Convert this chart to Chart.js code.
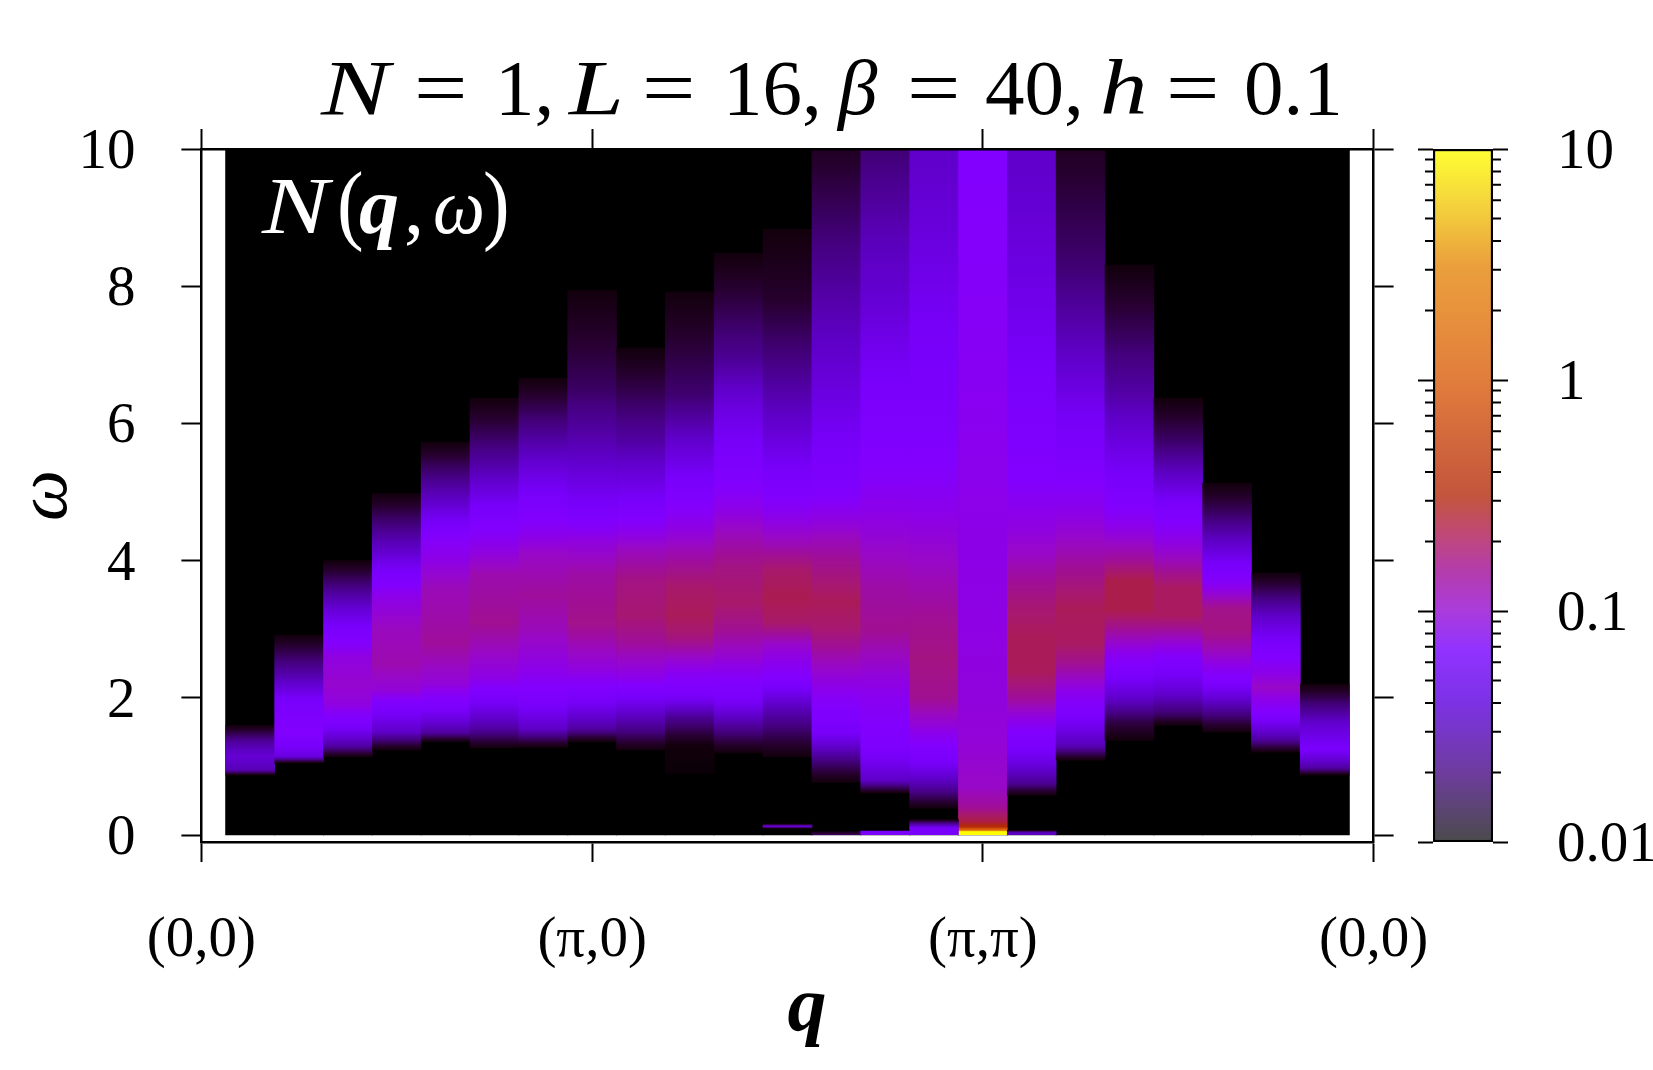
<!DOCTYPE html>
<html><head><meta charset="utf-8"><title>N(q,ω)</title>
<script src="https://cdn.jsdelivr.net/npm/chart.js@4"></script>
<style>html,body{margin:0;padding:0;background:#fff;overflow:hidden}canvas{position:absolute;top:0}#heat{left:0}#bar{left:1400px}</style>
</head><body>
<canvas id="heat" width="1653" height="1070"></canvas>
<canvas id="bar" width="253" height="1070"></canvas>
<script>
const FONT = '"Liberation Serif"';
// each column: [omega, log10 N(q,omega)]
const q01=[[.875,-1.95],[.95,-1.55],[1.15,-1.45],[1.35,-1.6],[1.6,-1.95]];
const q02=[[1.05,-1.95],[1.15,-1.4],[1.5,-1.15],[2,-1.3],[2.3,-1.55],[2.92,-1.95]];
const q03=[[1.14,-1.95],[1.3,-1.6],[1.6,-1.25],[1.9,-1.02],[2.2,-.97],[2.6,-1.02],[2.9,-1.2],[3.3,-1.45],[4,-1.95]];
const q04=[[1.24,-1.95],[1.5,-1.5],[1.9,-1.2],[2.1,-1],[2.5,-.9],[3,-.93],[3.5,-1.05],[3.8,-1.25],[4.1,-1.45],[4.98,-1.95]];
const q05=[[1.36,-1.95],[1.5,-1.6],[1.9,-1.2],[2.2,-1],[2.8,-.86],[3.6,-.92],[4.3,-1.12],[4.8,-1.45],[5.73,-1.95]];
const q06=[[1.27,-1.95],[1.55,-1.6],[2,-1.25],[2.3,-1.03],[3.1,-.84],[3.8,-.9],[4.4,-1.12],[4.8,-1.3],[5.2,-1.5],[5.8,-1.75],[6.37,-1.95]];
const q07=[[1.28,-1.95],[1.55,-1.5],[2,-1.2],[2.4,-1.05],[3,-.92],[3.5,-.86],[4.1,-.95],[4.6,-1.15],[5.15,-1.35],[5.9,-1.65],[6.66,-1.95]];
const q08=[[1.36,-1.95],[1.55,-1.6],[2,-1.25],[2.4,-1.02],[3.1,-.82],[3.8,-.88],[4.3,-1.02],[4.8,-1.28],[5.5,-1.5],[6.5,-1.75],[7.94,-1.95]];
const q09=[[1.24,-1.95],[1.5,-1.7],[2,-1.3],[2.3,-1.05],[2.8,-.86],[3.2,-.76],[3.7,-.8],[4.2,-.95],[4.9,-1.3],[5.75,-1.6],[7.1,-1.95]];
const q10=[[.9,-1.97],[1.3,-1.95],[1.7,-1.65],[2.05,-1.25],[2.6,-.95],[2.9,-.78],[3.2,-.7],[3.6,-.74],[4.1,-.9],[5.1,-1.25],[5.8,-1.5],[6.4,-1.72],[7.92,-1.95]];
const q11=[[1.2,-1.95],[1.5,-1.7],[2,-1.25],[2.6,-.98],[3,-.84],[3.4,-.74],[3.9,-.8],[4.4,-.93],[5.2,-1.18],[6.2,-1.4],[7,-1.65],[8.48,-1.95]];
const q12=[[1.14,-1.95],[1.5,-1.75],[1.9,-1.5],[2.3,-1.15],[2.8,-.95],[3.1,-.74],[3.47,-.68],[3.85,-.74],[4.2,-.9],[5.1,-1.22],[5.9,-1.45],[6.9,-1.68],[7.8,-1.85],[8.83,-1.95]];
const q13=[[.77,-1.95],[1.05,-1.72],[1.5,-1.28],[2,-1.1],[2.6,-.9],[3,-.76],[3.4,-.7],[3.9,-.82],[4.3,-.92],[5.1,-1.2],[6.4,-1.4],[7.8,-1.58],[8.8,-1.72],[10,-1.88]];
const q14=[[.61,-1.95],[.8,-1.5],[1.3,-1.2],[2,-1.08],[3,-.84],[3.6,-.88],[4.1,-.95],[5.2,-1.12],[6.4,-1.25],[7.8,-1.45],[8.8,-1.55],[10,-1.72]];
const q15=[[.39,-1.95],[.7,-1.6],[1.1,-1.25],[1.6,-1],[2,-.84],[2.6,-.8],[3.2,-.85],[4,-.95],[5.2,-1.12],[6.4,-1.25],[7.6,-1.32],[8.8,-1.42],[10,-1.5]];
const q16=[[0,1],[.05,1],[.075,.2],[.12,-.45],[.2,-.65],[.4,-.85],[.7,-.95],[1.5,-1],[3,-1.03],[5,-1.05],[7,-1.1],[10,-1.15]];
const q17=[[.58,-1.95],[.75,-1.65],[1.05,-1.4],[1.5,-1.15],[1.95,-.88],[2.4,-.7],[2.9,-.7],[3.4,-.78],[4.1,-.95],[5.2,-1.15],[6.9,-1.3],[8.3,-1.4],[10,-1.5]];
const q18=[[1.09,-1.95],[1.3,-1.55],[1.8,-1.2],[2.5,-.84],[2.8,-.72],[3.3,-.7],[3.7,-.8],[4.5,-1],[5.3,-1.18],[6.3,-1.35],[6.9,-1.48],[8.3,-1.72],[10,-1.88]];
const q19=[[1.38,-1.95],[1.65,-1.8],[2,-1.48],[2.45,-1.18],[3,-.85],[3.3,-.66],[3.7,-.66],[4,-.85],[4.5,-1.05],[5.1,-1.25],[5.9,-1.45],[6.4,-1.58],[7.4,-1.78],[8.31,-1.95]];
const q20=[[1.6,-1.95],[1.75,-1.75],[2.05,-1.48],[2.5,-1.2],[2.9,-.92],[3.2,-.72],[3.6,-.72],[4,-.92],[4.7,-1.2],[5.15,-1.45],[5.7,-1.72],[6.37,-1.95]];
const q21=[[1.5,-1.95],[1.75,-1.7],[2,-1.45],[2.3,-1.15],[2.7,-.92],[3,-.8],[3.3,-.82],[3.8,-1.2],[4.2,-1.45],[4.7,-1.75],[5.13,-1.95]];
const q22=[[1.21,-1.95],[1.4,-1.6],[1.8,-1.15],[2.15,-.95],[2.7,-1.2],[3.2,-1.5],[3.82,-1.95]];
const q23=[[.875,-1.95],[.98,-1.6],[1.25,-1.27],[1.6,-1.45],[1.9,-1.7],[2.2,-1.95]];
const columns=[q01,q02,q03,q04,q05,q06,q07,q08,q09,q10,q11,q12,q13,q14,q15,q16,q17,q18,q19,q20,q21,q22,q23];
const qPositions=[1,2,3,4,5,6,7,8,9,10,11,12,13,14,15,16,17,18,19,20,21,22,23];
// small low-energy features below the main band
const lowQ=[12,13,14,15,17];
const low12=[[.1,-1.9],[.13,-1.4],[.16,-1.9]];
const low13=[[0,-1.75],[.05,-1.9]];
const low14=[[0,-1.2],[.06,-1.3]];
const low15=[[0,-1.3],[.1,-1.28],[.17,-1.65],[.23,-1.95]];
const low17=[[0,-1.5],[.04,-1.55],[.07,-1.95]];
const lowColumns=[low12,low13,low14,low15,low17];

const xTickValues=[0,8,16,24];
const xTickLabels=['(0,0)','(π,0)','(π,π)','(0,0)'];
const yTickValues=[0,2,4,6,8,10];
const cbMajor=[0.01,0.1,1,10];
const cbLabels=['0.01','0.1','1','10'];
const cbMinor=[.02,.03,.04,.05,.06,.07,.08,.09,.2,.3,.4,.5,.6,.7,.8,.9,2,3,4,5,6,7,8,9];

// heat palette: log10 N -> r,g,b
const palette=[[-2,0,0,0],[-1.95,18,0,12],[-1.85,38,0,45],[-1.7,68,0,125],[-1.5,95,0,200],[-1.3,120,0,250],[-1.15,130,0,255],[-1.05,140,0,235],[-.95,152,8,200],[-.85,160,15,150],[-.75,168,25,110],[-.65,172,30,70],[-.5,178,40,10],[0,217,92,11],[.5,230,136,11],[1,255,255,0]];
// colour bar as it appears (paler than the map)
const barColours=[[-2,75,75,75],[-1.69,110,60,160],[-1.39,125,50,230],[-1.17,145,50,255],[-1,170,60,220],[-.82,180,60,170],[-.7,190,70,130],[-.5,195,85,60],[0,225,125,60],[.5,235,160,60],[.78,245,215,60],[1,255,255,50]];

function colourAt(t){
  for(let i=1;i<palette.length;i++){
    if(t<=palette[i][0]){
      const a=palette[i-1],b=palette[i],f=(t-a[0])/(b[0]-a[0]);
      return `rgb(${a[1]+(b[1]-a[1])*f|0},${a[2]+(b[2]-a[2])*f|0},${a[3]+(b[3]-a[3])*f|0})`;
    }
  }
  return 'rgb(255,255,0)';
}
function columnGradient(chart,stops){
  const y=chart.scales.y;
  if(!y||!chart.ctx)return '#000';
  const w0=stops[0][0],w1=stops[stops.length-1][0];
  const p0=y.getPixelForValue(w0),p1=y.getPixelForValue(w1);
  if(!isFinite(p0)||!isFinite(p1))return '#000';
  const g=chart.ctx.createLinearGradient(0,p0,0,p1);
  for(let i=0;i<stops.length-1;i++){
    const [a,ta]=stops[i],[b,tb]=stops[i+1];
    for(let k=0;k<=5;k++){
      const f=k/5,w=a+(b-a)*f;
      g.addColorStop(Math.min(1,Math.max(0,(w-w0)/(w1-w0))),colourAt(ta+(tb-ta)*f));
    }
  }
  return g;
}

// text, style, x, horizontal stretch, vertical stretch
const titleRuns=[['N','i',321,1.3,1],['=','r',414,1.2,1],['1,','r',495,1,1],['L','i',569,1.25,1],['=','r',642,1.2,1],['16,','r',723,1,1],['β','i',838,1,1],['=','r',907,1.2,1],['40,','r',985,1,1],['h','i',1100,1.2,1],['=','r',1166,1.2,1],['0.1','r',1244,1,1]];
const noteRuns=[['N','i',262,1.25,1],['(','r',337,1,1.1],['q','b',359,1,1],[',','r',404,1,1],['ω','i',433,.92,1],[')','r',483,1,1.1]];
function drawRuns(ctx,runs,size,y,colour){
  ctx.save();ctx.fillStyle=colour;ctx.textBaseline='alphabetic';ctx.textAlign='left';
  for(const [s,st,x,sx,sy] of runs){
    ctx.font=(st==='i'?'italic ':st==='b'?'italic bold ':'')+size+'px '+FONT;
    ctx.save();ctx.translate(x,y);ctx.scale(sx,sy);ctx.fillText(s,0,0);ctx.restore();
  }
  ctx.restore();
}
const textPlugin={id:'mathText',
  afterDatasetsDraw(chart){drawRuns(chart.ctx,noteRuns,80,233,'#fff');},
  afterDraw(chart){drawRuns(chart.ctx,titleRuns,79,114,'#000');}};

const axisCommon={border:{display:true,color:'#000',width:2.5,z:1},
  grid:{drawOnChartArea:false,drawTicks:true,tickLength:20,tickWidth:2,tickColor:'#000',z:1,offset:false}};
const tickFont={family:FONT,size:57};

new Chart(document.getElementById('heat'),{
  type:'bar',
  data:{datasets:[
    {label:'low',order:1,data:lowQ.map((q,i)=>({x:q,y:[lowColumns[i][0][0],lowColumns[i][lowColumns[i].length-1][0]]})),
      backgroundColor:c=>columnGradient(c.chart,lowColumns[c.dataIndex])},
    {label:'N(q,ω)',order:2,data:qPositions.map((q,i)=>({x:q,y:[columns[i][0][0],columns[i][columns[i].length-1][0]]})),
      backgroundColor:c=>columnGradient(c.chart,columns[c.dataIndex])},
    {label:'background',order:3,data:qPositions.map(q=>({x:q,y:[0,10]})),backgroundColor:'#000',inflateAmount:.6}
  ]},
  options:{responsive:false,animation:false,devicePixelRatio:1,
    layout:{padding:0,autoPadding:false},
    plugins:{legend:{display:false},tooltip:{enabled:false},title:{display:false}},
    datasets:{bar:{grouped:false,barPercentage:1,categoryPercentage:1,borderWidth:0}},
    scales:{
      x:{type:'linear',position:'bottom',min:0,max:24,offset:false,...axisCommon,
        afterBuildTicks:s=>{s.ticks=xTickValues.map(value=>({value}));},
        afterFit:s=>{s.height=228;},
        ticks:{font:tickFont,color:'#000',padding:45,maxRotation:0,autoSkip:false,callback:(v,i)=>xTickLabels[i]},
        title:{display:true,text:'\u00a0\u00a0q',color:'#000',font:{family:FONT,size:78,style:'italic',weight:'bold'},padding:{top:0,bottom:13}}},
      x2:{type:'linear',position:'top',min:0,max:24,offset:false,...axisCommon,
        afterBuildTicks:s=>{s.ticks=xTickValues.map(value=>({value}));},
        afterFit:s=>{s.height=149;},
        ticks:{display:false}},
      y:{type:'linear',position:'left',min:-0.1,max:10,...axisCommon,
        afterBuildTicks:s=>{s.ticks=yTickValues.map(value=>({value}));},
        afterFit:s=>{s.width=201.4;},
        ticks:{font:tickFont,color:'#000',padding:46,labelOffset:4,callback:v=>String(v)},
        title:{display:true,text:'ω',color:'#000',font:{family:FONT,size:72,style:'italic',weight:'normal'},padding:{top:4,bottom:0}}},
      y2:{type:'linear',position:'right',min:-0.1,max:10,...axisCommon,
        afterBuildTicks:s=>{s.ticks=yTickValues.map(value=>({value}));},
        afterFit:s=>{s.width=279.4;},
        ticks:{display:false}}
    }
  },
  plugins:[textPlugin]
});

const minorTicks={id:'minorTicks',afterDraw(chart){
  const s=chart.scales.y,a=chart.chartArea,c=chart.ctx;
  c.save();c.strokeStyle='#000';c.lineWidth=2;c.beginPath();
  for(const v of cbMinor){const p=s.getPixelForValue(v);
    c.moveTo(a.left-8,p);c.lineTo(a.left,p);c.moveTo(a.right,p);c.lineTo(a.right+8,p);}
  c.stroke();c.restore();
}};
function barGradient(chart){
  const s=chart.scales.y;if(!s)return '#000';
  const top=s.getPixelForValue(10),bot=s.getPixelForValue(0.01);
  if(!isFinite(top)||!isFinite(bot))return '#000';
  const g=chart.ctx.createLinearGradient(0,bot,0,top);
  for(const [t,r,gg,b] of barColours){g.addColorStop((t+2)/3,`rgb(${r},${gg},${b})`);}
  return g;
}
const cbAxis={border:{display:false},grid:{drawOnChartArea:false,drawTicks:true,tickLength:15,tickWidth:2,tickColor:'#000',z:1}};
new Chart(document.getElementById('bar'),{
  type:'bar',
  data:{labels:['N'],datasets:[{label:'colour scale',data:[[0.01,10]],barPercentage:1,categoryPercentage:1,
    borderWidth:2.5,borderColor:'#000',borderSkipped:false,backgroundColor:c=>barGradient(c.chart)}]},
  options:{responsive:false,animation:false,devicePixelRatio:1,
    layout:{padding:{top:149,bottom:228,left:0,right:0},autoPadding:false},
    plugins:{legend:{display:false},tooltip:{enabled:false}},
    scales:{
      x:{display:false,type:'category'},
      y:{type:'logarithmic',position:'left',min:0.01,max:10,...cbAxis,
        afterBuildTicks:s=>{s.ticks=cbMajor.map(value=>({value}));},
        afterFit:s=>{s.width=33;},
        ticks:{display:false}},
      y2:{type:'logarithmic',position:'right',min:0.01,max:10,...cbAxis,
        afterBuildTicks:s=>{s.ticks=cbMajor.map(value=>({value}));},
        afterFit:s=>{s.width=160;},
        ticks:{font:tickFont,color:'#000',padding:49,labelOffset:4,callback:(v,i)=>cbLabels[i]}}
    }
  },
  plugins:[minorTicks]
});
</script>
</body></html>
